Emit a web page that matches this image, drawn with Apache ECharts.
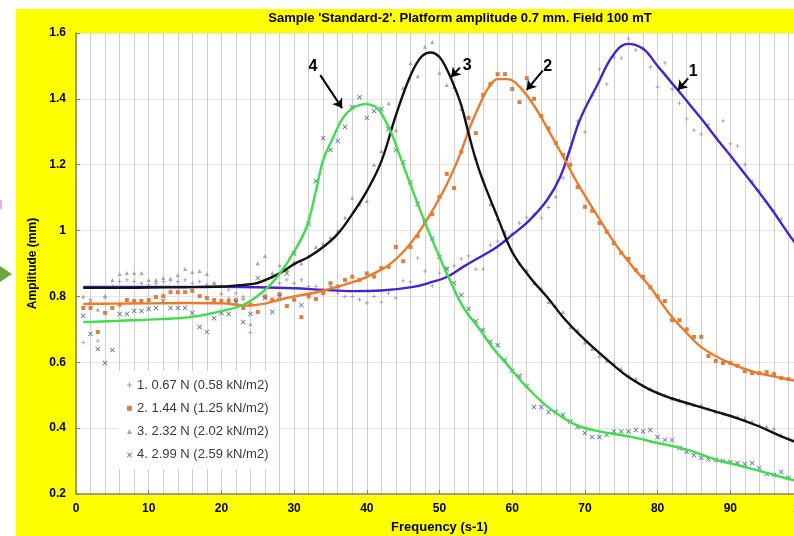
<!DOCTYPE html>
<html>
<head>
<meta charset="utf-8">
<script src="https://cdn.jsdelivr.net/npm/echarts@6/dist/echarts.min.js"></script>
<style>
  html, body { margin: 0; padding: 0; background: #ffffff; }
  #chart { width: 794px; height: 536px; }
</style>
</head>
<body>
<div id="chart"></div>
<script>
// Resonance curves: amplitude vs excitation frequency for four loads.
const titleText = "Sample 'Standard-2'. Platform amplitude 0.7 mm. Field 100 mT";
const xName = 'Frequency (s-1)';
const yName = 'Amplitude (mm)';
const seriesNames = [
  '1. 0.67 N (0.58 kN/m2)',
  '2. 1.44 N (1.25 kN/m2)',
  '3. 2.32 N (2.02 kN/m2)',
  '4. 2.99 N (2.59 kN/m2)'
];

// Measured points [frequency, amplitude]
const pts1 = [[1,0.66],[2,0.79],[3,0.665],[4,0.80],[5,0.83],[6,0.845],[7,0.85],[8,0.845],[9,0.84],[10,0.835],[11,0.84],[12,0.845],[13,0.85],[14,0.845],[15,0.85],[16,0.84],[17,0.845],[18,0.835],[19,0.84],[20,0.83],[21,0.82],[22,0.81],[23,0.79],[24,0.69],[25,0.84],[26,0.85],[27,0.86],[28,0.84],[29,0.85],[30,0.84],[31,0.85],[32,0.83],[33,0.83],[34,0.82],[35,0.83],[36,0.81],[37,0.80],[38,0.80],[39,0.79],[40,0.78],[41,0.80],[42,0.783],[43,0.81],[44,0.795],[45,0.847],[46,0.844],[47,0.917],[48,0.877],[49,0.832],[50,0.871],[51,0.886],[52,0.893],[53,0.914],[54,0.923],[55,0.883],[56,0.883],[57,0.956],[58,0.968],[59,0.996],[60,0.99],[61,1.023],[62,1.04],[63,1.05],[64,1.038],[65,1.07],[66,1.102],[67,1.16],[68,1.25],[69,1.333],[70,1.299],[71,1.41],[72,1.49],[73,1.445],[74,1.527],[75,1.524],[76,1.582],[77,1.548],[78,1.554],[79,1.497],[80,1.436],[81,1.509],[82,1.43],[83,1.387],[84,1.339],[85,1.305],[86,1.293],[87,1.321],[88,1.284],[89,1.333],[90,1.263],[91,1.257],[92,1.2],[93,1.15],[94,1.12],[95,1.087],[96,1.06],[97,1.035],[98,0.99]];
const pts2 = [[1,0.765],[2,0.765],[3,0.692],[4,0.75],[5,0.765],[6,0.775],[7,0.789],[8,0.786],[9,0.786],[10,0.789],[11,0.798],[12,0.801],[13,0.813],[14,0.813],[15,0.813],[16,0.817],[17,0.801],[18,0.795],[19,0.789],[20,0.786],[21,0.786],[22,0.789],[23,0.765],[24,0.775],[25,0.753],[26,0.80],[27,0.79],[28,0.807],[29,0.771],[30,0.79],[31,0.737],[32,0.80],[33,0.792],[34,0.81],[35,0.84],[36,0.83],[37,0.85],[38,0.86],[39,0.85],[40,0.87],[41,0.86],[42,0.886],[43,0.89],[44,0.95],[45,0.907],[46,0.95],[47,0.983],[48,1.029],[49,1.05],[50,1.102],[51,1.172],[52,1.129],[53,1.239],[54,1.342],[55,1.296],[56,1.412],[57,1.445],[58,1.475],[59,1.475],[60,1.43],[61,1.39],[62,1.463],[63,1.40],[64,1.348],[65,1.31],[66,1.266],[67,1.23],[68,1.20],[69,1.132],[70,1.072],[71,1.06],[72,1.023],[73,0.996],[74,0.962],[75,0.932],[76,0.914],[77,0.88],[78,0.859],[79,0.828],[80,0.80],[81,0.786],[82,0.728],[83,0.728],[84,0.70],[85,0.677],[86,0.677],[87,0.619],[88,0.604],[89,0.598],[90,0.598],[91,0.589],[92,0.573],[93,0.567],[94,0.567],[95,0.57],[96,0.564],[97,0.552],[98,0.549]];
const pts3 = [[1,0.80],[2,0.786],[3,0.76],[4,0.80],[5,0.85],[6,0.868],[7,0.871],[8,0.871],[9,0.871],[10,0.85],[11,0.85],[12,0.856],[13,0.853],[14,0.865],[15,0.883],[16,0.874],[17,0.877],[18,0.868],[19,0.84],[20,0.81],[21,0.795],[22,0.79],[23,0.80],[24,0.716],[25,0.901],[26,0.923],[27,0.871],[28,0.895],[29,0.88],[30,0.905],[31,0.90],[32,0.923],[33,0.95],[34,0.96],[35,0.98],[36,1.00],[37,1.04],[38,1.10],[39,1.08],[40,1.09],[41,1.20],[42,1.242],[43,1.387],[44,1.305],[45,1.433],[46,1.509],[47,1.469],[48,1.558],[49,1.573],[50,1.479],[51,1.442],[52,1.436],[53,1.37],[54,1.30],[55,1.22],[56,1.156],[57,1.08],[58,1.035],[59,0.99],[60,0.94],[61,0.90],[62,0.88],[63,0.84],[64,0.825],[65,0.783],[66,0.77],[67,0.753],[68,0.707],[69,0.698],[70,0.66],[71,0.64],[72,0.619],[73,0.605],[74,0.598],[75,0.58],[76,0.56],[77,0.55],[78,0.53],[79,0.52],[80,0.51],[81,0.50],[82,0.49],[83,0.485],[84,0.475],[85,0.47],[86,0.47],[87,0.46],[88,0.45],[89,0.445],[90,0.44],[91,0.435],[92,0.43],[93,0.42],[94,0.41],[95,0.405],[96,0.40],[97,0.38],[98,0.37]];
const pts4 = [[1,0.741],[2,0.686],[3,0.64],[4,0.598],[5,0.637],[6,0.747],[7,0.747],[8,0.756],[9,0.756],[10,0.762],[11,0.765],[12,0.786],[13,0.765],[14,0.765],[15,0.765],[16,0.75],[17,0.707],[18,0.692],[19,0.734],[20,0.75],[21,0.747],[22,0.783],[23,0.722],[24,0.747],[25,0.856],[26,0.795],[27,0.753],[28,0.80],[29,0.87],[30,0.93],[31,0.774],[32,1.02],[33,1.15],[34,1.281],[35,1.245],[36,1.272],[37,1.315],[38,1.375],[39,1.405],[40,1.342],[41,1.363],[42,1.369],[43,1.308],[44,1.245],[45,1.208],[46,1.147],[47,1.081],[48,1.023],[49,0.977],[50,0.92],[51,0.883],[52,0.84],[53,0.804],[54,0.762],[55,0.725],[56,0.698],[57,0.662],[58,0.652],[59,0.607],[60,0.574],[61,0.558],[62,0.528],[63,0.464],[64,0.464],[65,0.449],[66,0.449],[67,0.44],[68,0.42],[69,0.403],[70,0.385],[71,0.373],[72,0.373],[73,0.38],[74,0.39],[75,0.39],[76,0.39],[77,0.394],[78,0.39],[79,0.394],[80,0.373],[81,0.364],[82,0.364],[83,0.34],[84,0.328],[85,0.318],[86,0.31],[87,0.305],[88,0.303],[89,0.30],[90,0.297],[91,0.294],[92,0.291],[93,0.294],[94,0.279],[95,0.261],[96,0.258],[97,0.267],[98,0.249]];

// Fitted trend curves [frequency, amplitude]
const fit1 = [[1,0.829],[10,0.829],[20,0.829],[25,0.828],[30,0.825],[34,0.82],[38,0.816],[42,0.818],[46.4,0.829],[49,0.844],[51,0.859],[53.2,0.889],[55.6,0.92],[57.9,0.95],[60,0.987],[62.4,1.032],[64.8,1.093],[66.6,1.163],[68,1.25],[69.3,1.336],[71.7,1.442],[73.9,1.533],[75.9,1.567],[78,1.552],[80,1.50],[82,1.447],[84,1.394],[86,1.34],[88,1.283],[90,1.228],[92,1.172],[94,1.115],[96,1.055],[98,0.99],[100,0.93]];
const fit2 = [[1,0.777],[5,0.778],[10,0.779],[15,0.78],[20,0.779],[23.5,0.772],[26,0.778],[28,0.79],[30,0.80],[33,0.812],[36,0.83],[39,0.85],[41,0.87],[43,0.895],[45,0.935],[47,0.99],[49,1.06],[51,1.14],[52.8,1.23],[54.2,1.315],[56,1.405],[57,1.442],[58,1.46],[59.3,1.46],[61,1.437],[63.4,1.366],[65.2,1.296],[67,1.225],[69.3,1.132],[72,1.035],[74,0.965],[76.6,0.889],[79,0.828],[81.7,0.745],[84,0.689],[86.2,0.643],[89.5,0.602],[93,0.572],[96.4,0.555],[100,0.54]];
const fit3 = [[1,0.826],[5,0.826],[10,0.827],[15,0.828],[20,0.83],[23,0.835],[25,0.841],[28,0.87],[30,0.898],[32,0.92],[34,0.95],[36,0.99],[38,1.05],[40,1.12],[42,1.21],[44,1.35],[46,1.47],[47.5,1.528],[48.8,1.541],[50,1.527],[51,1.49],[52,1.44],[53,1.38],[54,1.295],[55,1.215],[56,1.15],[58,1.04],[60,0.935],[62.4,0.859],[64.8,0.798],[67,0.737],[69.3,0.683],[71.1,0.646],[74,0.59],[76,0.555],[79,0.516],[82,0.49],[85,0.47],[88,0.45],[91,0.43],[94,0.405],[97,0.375],[100,0.35]];
const fit4 = [[1,0.722],[6,0.726],[11.6,0.731],[16,0.738],[20.7,0.759],[23.5,0.78],[26.3,0.826],[28.1,0.871],[29.9,0.932],[31.7,1.01],[33,1.12],[34,1.214],[35.4,1.284],[36.7,1.342],[38.1,1.372],[39.8,1.384],[41.4,1.372],[42.5,1.336],[43.5,1.29],[44.5,1.23],[46,1.14],[48,1.025],[50,0.92],[51,0.87],[53.2,0.77],[55.6,0.698],[57.4,0.642],[59.3,0.593],[62,0.525],[64.8,0.466],[67.5,0.425],[69.3,0.405],[72,0.39],[76,0.375],[80,0.355],[84,0.335],[88.2,0.303],[90.4,0.291],[95,0.264],[98.5,0.243],[100,0.235]];

// Axis ranges and tick steps
const xMin = 0, xMax = 100, xStep = 10;
const yMin = 0.2, yMax = 1.6, yStep = 0.2;

// Curve callouts: number label position and arrow start/end, in data units
const callouts = [
  { text: '4', label: [32.6, 1.497], from: [33.6, 1.472], to: [36.6, 1.372] },
  { text: '3', label: [53.8, 1.500], from: [52.8, 1.495], to: [51.6, 1.466] },
  { text: '2', label: [64.9, 1.497], from: [64.2, 1.486], to: [62.0, 1.427] },
  { text: '1', label: [84.9, 1.482], from: [84.2, 1.462], to: [82.8, 1.427] }
];

const lineColors = ['#4424cc', '#ec7a28', '#111111', '#3fdc4c'];
const markColors = ['#8796bb', '#dd773a', '#a0a0a0', '#55709c'];
const plusPath = 'path://M4,0H6V4H10V6H6V10H4V6H0V4H4Z';
const crossPath = 'path://M1.2,0L5,3.8L8.8,0L10,1.2L6.2,5L10,8.8L8.8,10L5,6.2L1.2,10L0,8.8L3.8,5L0,1.2Z';
const markSymbols = [plusPath, 'rect', 'triangle', crossPath];
const markSizes = [4, 4, 4, 5];

const FONT = '"Liberation Sans", Arial, sans-serif';
const chart = echarts.init(document.getElementById('chart'), null, { renderer: 'canvas' });

const pointSets = [pts1, pts2, pts3, pts4];
const fitSets = [fit1, fit2, fit3, fit4];

const series = [];
pointSets.forEach((pts, i) => {
  series.push({
    name: seriesNames[i],
    type: 'scatter',
    data: pts,
    symbol: markSymbols[i],
    symbolSize: markSizes[i],
    itemStyle: { color: markColors[i], opacity: 0.95 },
    z: 2
  });
});
fitSets.forEach((fit, i) => {
  const s = {
    name: 'fit' + (i + 1),
    type: 'line',
    data: fit,
    smooth: 0.4,
    showSymbol: false,
    symbol: 'none',
    lineStyle: { color: lineColors[i], width: 2.4 },
    z: 3
  };
  if (i === 2) {
    s.markLine = {
      silent: true,
      symbol: ['none', 'arrow'],
      symbolSize: 9,
      label: { show: false },
      lineStyle: { color: '#000', width: 2, type: 'solid' },
      data: callouts.map(c => [{ coord: c.from }, { coord: c.to }])
    };
  }
  series.push(s);
});

const baseGraphics = [
  { type: 'rect', z: -10, shape: { x: 16, y: 9, width: 800, height: 540 }, style: { fill: '#ffff00' } },
  { type: 'polygon', z: -5, shape: { points: [[0, 266], [12, 274], [0, 282]] }, style: { fill: '#6aaa3c' } },
  { type: 'rect', z: -5, shape: { x: 0, y: 200, width: 2, height: 9 }, style: { fill: '#f2a6f0' } },
  { type: 'text', x: 460, y: 18, z: 10,
    style: { text: titleText, font: 'bold 13px ' + FONT, fill: '#000', align: 'center', verticalAlign: 'middle' } }
];

chart.setOption({
  animation: false,
  backgroundColor: '#ffffff',
  graphic: baseGraphics,
  grid: {
    left: 76, top: 33, width: 727, height: 461,
    containLabel: false,
    outerBoundsMode: 'none',
    show: true, backgroundColor: '#ffffff', borderWidth: 0
  },
  legend: {
    data: seriesNames,
    orient: 'vertical',
    left: 118, top: 371,
    padding: [6, 10, 6, 9],
    backgroundColor: '#ffffff',
    itemWidth: 5, itemHeight: 5,
    itemGap: 7.3,
    selectedMode: false,
    textStyle: { fontFamily: FONT, fontSize: 13, color: '#3a3a3a', lineHeight: 16 }
  },
  xAxis: {
    type: 'value', min: xMin, max: xMax, interval: xStep,
    name: xName, nameLocation: 'middle', nameGap: 27,
    nameTextStyle: { fontFamily: FONT, fontWeight: 'bold', fontSize: 13, color: '#000' },
    axisLine: { show: true, lineStyle: { color: '#85855a', width: 1.5 } },
    axisTick: { show: true, inside: true, length: 4, lineStyle: { color: '#85855a' } },
    axisLabel: { fontFamily: FONT, fontWeight: 'bold', fontSize: 12, color: '#000', margin: 9 },
    splitLine: { show: true, lineStyle: { color: '#cfcfcf', width: 1 } },
    minorTick: { show: false, splitNumber: 5 },
    minorSplitLine: { show: true, lineStyle: { color: '#cfcfcf', width: 1 } }
  },
  yAxis: {
    type: 'value', min: yMin, max: yMax, interval: yStep,
    name: yName, nameLocation: 'middle', nameGap: 31, nameRotate: 90,
    nameTextStyle: { fontFamily: FONT, fontWeight: 'bold', fontSize: 12, color: '#000' },
    axisLine: { show: true, lineStyle: { color: '#85855a', width: 1.5 } },
    axisTick: { show: true, inside: true, length: 4, lineStyle: { color: '#85855a' } },
    axisLabel: {
      fontFamily: FONT, fontWeight: 'bold', fontSize: 12, color: '#000', margin: 10,
      formatter: v => String(+v.toFixed(1))
    },
    splitLine: { show: true, lineStyle: { color: '#e6e6e6', width: 1 } }
  },
  series: series
});

// Number labels beside the callout arrows
const labelGraphics = callouts.map(c => {
  const p = chart.convertToPixel({ gridIndex: 0 }, c.label);
  return {
    type: 'text', x: p[0], y: p[1], z: 10,
    style: { text: c.text, font: 'bold 16px ' + FONT, fill: '#000', align: 'center', verticalAlign: 'middle' }
  };
});
chart.setOption({ graphic: baseGraphics.concat(labelGraphics) });
</script>
</body>
</html>
